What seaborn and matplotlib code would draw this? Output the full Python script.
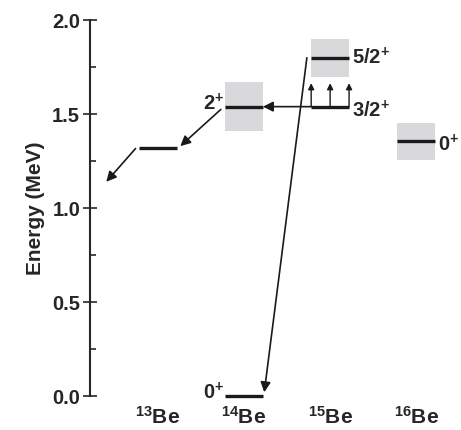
import matplotlib
matplotlib.use('Agg')
import matplotlib.pyplot as plt
import seaborn as sns
from matplotlib.patches import Rectangle

# nuclei on the x axis
nuclei = [r'$^{13}$Be', r'$^{14}$Be', r'$^{15}$Be', r'$^{16}$Be']

# levels: nucleus index, energy (MeV), half height of grey band, label, label side
level_nuc = [0, 1, 1, 2, 2, 3]
level_energy = [1.32, 1.54, 0.0, 1.80, 1.54, 1.355]
level_band = [0.0, 0.13, 0.0, 0.10, 0.0, 0.10]
level_label = ['', r'2$^{+}$', r'0$^{+}$', r'5/2$^{+}$', r'3/2$^{+}$', r'0$^{+}$']
level_side = ['', 'left', 'left', 'right', 'right', 'right']

# transitions (x0, E0) -> (x1, E1)
trans_x0 = [1.78, 1.73, 0.73, -0.26]
trans_e0 = [1.54, 1.80, 1.525, 1.317]
trans_x1 = [1.22, 1.235, 0.26, -0.60]
trans_e1 = [1.54, 0.02, 1.33, 1.14]

# small upward arrows on 15Be 3/2+
up_x = [1.78, 2.0, 2.22]
up_e0 = [1.54, 1.54, 1.54]
up_e1 = [1.665, 1.665, 1.665]

half_w = 0.22

sns.set_style('ticks')
plt.rcParams['font.family'] = ['Liberation Sans', 'DejaVu Sans']
plt.rcParams['font.weight'] = 'bold'
plt.rcParams['mathtext.fontset'] = 'custom'
plt.rcParams['mathtext.rm'] = 'Liberation Sans:bold'
plt.rcParams['mathtext.bf'] = 'Liberation Sans:bold'
plt.rcParams['mathtext.default'] = 'rm'

fig = plt.figure(figsize=(4.61, 4.30), dpi=100)
ax = fig.add_axes([0.195, 0.079, 0.805, 0.874])

for n, e, b in zip(level_nuc, level_energy, level_band):
    if b > 0:
        ax.add_patch(Rectangle((n - half_w, e - b), 2 * half_w, 2 * b,
                               facecolor='#d9d9db', edgecolor='none', zorder=1, clip_on=False))
    ax.hlines(e, n - half_w, n + half_w, color='#1a1a1a', lw=2.4, zorder=3, clip_on=False)

for n, e, lab, side in zip(level_nuc, level_energy, level_label, level_side):
    if lab == '':
        continue
    if side == 'left':
        ax.text(n - half_w - 0.01, e + 0.015, lab, ha='right', va='center',
                fontsize=14.5, fontweight='bold')
    else:
        dy = 0.0 if e > 1.6 else -0.02
        ax.text(n + half_w + 0.03, e + dy, lab, ha='left', va='center',
                fontsize=14.5, fontweight='bold')

for x0, e0, x1, e1 in zip(trans_x0, trans_e0, trans_x1, trans_e1):
    ax.annotate('', xy=(x1, e1), xytext=(x0, e0),
                arrowprops=dict(arrowstyle='-|>', color='#1a1a1a', lw=1.2,
                                mutation_scale=15, shrinkA=0, shrinkB=0),
                zorder=4, annotation_clip=False)

for x, e0, e1 in zip(up_x, up_e0, up_e1):
    ax.annotate('', xy=(x, e1), xytext=(x, e0),
                arrowprops=dict(arrowstyle='-|>', color='#1a1a1a', lw=1.0,
                                mutation_scale=9, shrinkA=0, shrinkB=0),
                zorder=4, annotation_clip=False)

ax.set_xlim(-0.79, 3.52)
ax.set_ylim(0, 2.0)
ax.set_xticks(range(len(nuclei)))
ax.set_xticklabels(nuclei, fontsize=15, fontweight='bold')
ax.set_yticks([0.0, 0.5, 1.0, 1.5, 2.0])
ax.set_yticklabels(['0.0', '0.5', '1.0', '1.5', '2.0'], fontsize=14.5, fontweight='bold')
ax.set_yticks([0.25, 0.75, 1.25, 1.75], minor=True)
ax.tick_params(axis='y', which='major', direction='inout', length=10, width=1.2, pad=2)
ax.tick_params(axis='y', which='minor', direction='in', length=4, width=1.2)
ax.tick_params(axis='x', length=0, pad=7)
ax.set_ylabel('Energy (MeV)', fontsize=15, fontweight='bold', labelpad=5)

for s in ['top', 'right', 'bottom']:
    ax.spines[s].set_visible(False)
ax.spines['left'].set_linewidth(1.5)

fig.savefig('out.png', dpi=100)
